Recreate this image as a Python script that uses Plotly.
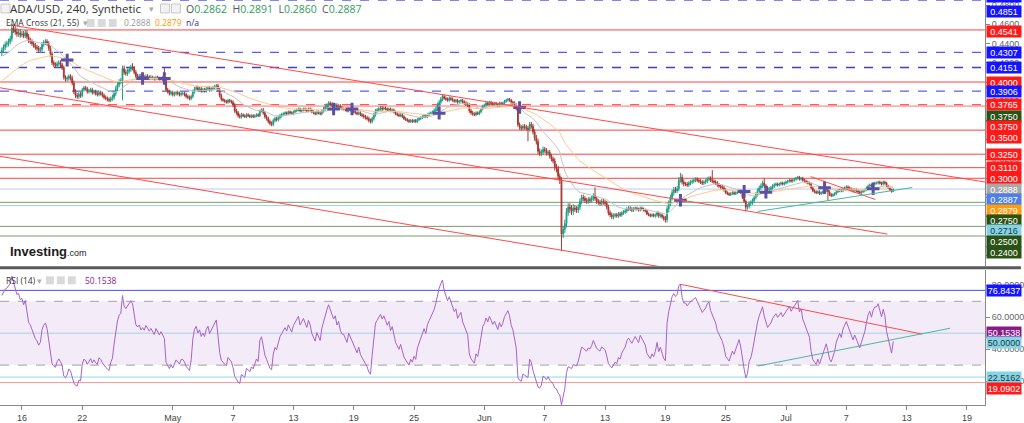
import numpy as np
import pandas as pd
import plotly.graph_objects as go

# ---------------- data (prices x 1e-4) ----------------
start = "2023-04-14 00:00"
open0 = 4300
closes = [
    4330, 4360, 4390, 4400, 4420, 4450,  4560, 4540, 4520, 4500, 4510, 4490,
    4500, 4480, 4510, 4470, 4430, 4420,  4400, 4380, 4360, 4350, 4330, 4340,
    4390, 4410, 4420, 4400, 4350, 4290,  4200, 4180, 4170, 4190, 4200, 4180,
    4150, 4050, 4030, 4040, 4060, 4040,  3990, 3900, 3860, 3850, 3870, 3860,
    3920, 3940, 3930, 3900, 3910, 3920,  3890, 3900, 3880, 3870, 3890, 3880,
    3860, 3840, 3830, 3820, 3810, 3830,  3840, 3880, 3930, 3970, 4000, 4010,
    4140, 4100, 4090, 4110, 4130, 4150,  4140, 4100, 4060, 4050, 4060, 4040,
    4050, 4040, 4060, 4050, 4040, 4050,  4040, 4030, 4050, 4040, 4030, 4040,
    4030, 4020, 3920, 3900, 3880, 3890,  3870, 3880, 3890, 3880, 3870, 3880,
    3880, 3870, 3850, 3840, 3830, 3850,  3900, 3930, 3940, 3920, 3930, 3910,
    3920, 3910, 3930, 3940, 3920, 3930,  3940, 3950, 3960, 3920, 3860, 3820,
    3810, 3800, 3790, 3810, 3800, 3790,  3760, 3700, 3680, 3650, 3640, 3660,
    3650, 3640, 3660, 3650, 3640, 3650,  3640, 3650, 3660, 3650, 3700, 3710,
    3680, 3640, 3620, 3590, 3570, 3560,  3600, 3620, 3610, 3630, 3650, 3660,
    3670, 3680, 3670, 3690, 3680, 3670,  3690, 3700, 3710, 3720, 3700, 3710,
    3720, 3710, 3700, 3720, 3710, 3690,  3680, 3670, 3690, 3680, 3670, 3700,
    3720, 3740, 3760, 3780, 3770, 3760,  3750, 3760, 3740, 3750, 3730, 3720,
    3720, 3710, 3700, 3720, 3710, 3700,  3690, 3680, 3670, 3680, 3660, 3650,
    3640, 3630, 3620, 3600, 3590, 3620,  3660, 3700, 3710, 3720, 3730, 3720,
    3730, 3720, 3710, 3720, 3700, 3710,  3690, 3670, 3660, 3650, 3660, 3640,
    3620, 3610, 3600, 3590, 3600, 3590,  3600, 3590, 3610, 3620, 3630, 3640,
    3650, 3640, 3660, 3670, 3680, 3690,  3700, 3720, 3760, 3790, 3820, 3850,
    3830, 3820, 3810, 3830, 3820, 3810,  3800, 3810, 3790, 3800, 3810, 3790,
    3780, 3770, 3760, 3700, 3680, 3670,  3660, 3680, 3670, 3690, 3720, 3750,
    3760, 3780, 3770, 3790, 3780, 3770,  3780, 3770, 3760, 3780, 3770, 3780,
    3800, 3810, 3820, 3810, 3790, 3780,  3760, 3730, 3560, 3530, 3520, 3540,
    3530, 3520, 3510, 3560, 3540, 3480,  3420, 3380, 3280, 3260, 3270, 3300,
    3290, 3260, 3270, 3230, 3200, 3180,  3120, 3100, 3020, 2980, 2420, 2470,
    2530, 2650, 2700, 2680, 2660, 2690,  2680, 2670, 2700, 2760, 2800, 2790,
    2770, 2760, 2780, 2770, 2790, 2820,  2790, 2760, 2750, 2740, 2760, 2750,
    2740, 2700, 2640, 2620, 2600, 2610,  2620, 2610, 2630, 2620, 2640, 2650,
    2660, 2680, 2690, 2680, 2670, 2680,  2690, 2680, 2670, 2690, 2680, 2670,
    2660, 2630, 2620, 2610, 2620, 2610,  2620, 2640, 2610, 2620, 2600, 2580,
    2570, 2680, 2740, 2800, 2850, 2880,  2870, 2890, 2980, 3010, 2960, 2940,
    2940, 2930, 2950, 2960, 2970, 2980,  2990, 2980, 2970, 2960, 2950, 2960,
    2970, 2990, 3000, 2980, 2970, 2960,  2950, 2930, 2920, 2910, 2900, 2880,
    2850, 2840, 2830, 2840, 2850, 2840,  2850, 2860, 2870, 2850, 2800, 2760,
    2700, 2710, 2740, 2750, 2770, 2800,  2830, 2870, 2900, 2920, 2950, 2920,
    2900, 2880, 2890, 2900, 2920, 2930,  2940, 2930, 2940, 2950, 2940, 2950,
    2960, 2970, 2980, 2970, 2980, 2990,  3000, 3010, 2990, 3000, 2980, 2970,
    2960, 2950, 2940, 2900, 2870, 2860,  2850, 2860, 2840, 2850, 2860, 2870,
    2880, 2860, 2830, 2820, 2830, 2840,  2860, 2870, 2880, 2870, 2890, 2900,
    2910, 2900, 2890, 2880, 2870, 2880,  2870, 2860, 2850, 2860, 2870, 2880,
    2900, 2920, 2930, 2920, 2940, 2950,  2950, 2960, 2950, 2940, 2960, 2950,
    2920, 2900, 2880, 2862, 2887,
]
# typical wick size per day (x 1e-4)
wick_up = [30, 40, 30, 25, 25, 25, 20, 25, 20, 20, 20, 30, 30, 25, 20, 15, 20, 20,
           20, 20, 20, 20, 15, 20, 15, 15, 20, 20, 15, 15, 15, 15, 20, 20, 15, 15,
           20, 20, 15, 15, 15, 15, 15, 25, 20, 15, 20, 15, 15, 15, 15, 20, 25, 30,
           25, 30, 40, 30, 25, 25, 25, 20, 20, 15, 15, 15, 30, 30, 20, 20, 20, 20,
           15, 15, 20, 25, 20, 15, 15, 15, 15, 15, 15, 15, 15, 15, 15, 15, 12]
wick_dn = [30, 30, 25, 25, 25, 25, 25, 25, 20, 20, 20, 25, 25, 20, 20, 15, 20, 20,
           20, 20, 20, 20, 15, 20, 15, 15, 20, 20, 15, 15, 15, 15, 20, 15, 15, 15,
           20, 20, 15, 15, 15, 15, 15, 20, 15, 15, 20, 15, 15, 15, 15, 25, 25, 30,
           25, 40, 40, 30, 25, 25, 25, 20, 20, 15, 15, 20, 30, 25, 20, 20, 20, 20,
           15, 15, 25, 20, 20, 15, 15, 15, 15, 15, 15, 15, 20, 15, 15, 15, 12]
high_spikes = {78: 4196, 97: 4144, 354: 2905, 405: 3056, 424: 3085, 455: 3004, 532: 2891}
low_spikes = {72: 3810, 314: 3384, 334: 2244, 444: 2655, 493: 2775, 532: 2860}

# horizontal levels: (value, colour, dash)
levels_main = [
    (0.4851, "#5c5cf2", "dash"), (0.4541, "#ff4040", "solid"), (0.4307, "#5c5cf2", "dash"),
    (0.4151, "#3f3fc8", "dash"), (0.4000, "#ff4040", "solid"), (0.3906, "#5c5cf2", "dash"),
    (0.3765, "#ff5a5a", "dash"), (0.3750, "#ff7070", "solid"), (0.3500, "#ff4040", "solid"),
    (0.3250, "#ff4040", "solid"), (0.3110, "#ff4040", "solid"), (0.3000, "#ff4040", "solid"),
    (0.2888, "#b9c9f2", "solid"), (0.2750, "#7f9a6c", "solid"), (0.2716, "#9ccfdc", "solid"),
    (0.2500, "#7f9a6c", "solid"), (0.2400, "#7f9a6c", "solid"),
]
levels_rsi = [(76.8437, "#4c4cf5", "solid"), (50.0, "#a9cfe6", "solid"),
              (22.5162, "#8fdbe6", "solid"), (19.0902, "#ff9a9a", "solid")]

# right-axis value tags: (text, value, axis, bg, fg, shift_px)
tags = [
    ("0.4851", 0.4851, "y", "#1414ff", "white", 4), ("0.4851", 0.4851, "y", "#1414ff", "white", -11),
    ("0.4541", 0.4541, "y", "#ff1a1a", "white", -2), ("0.4307", 0.4307, "y", "#1414ff", "white", 0),
    ("0.4151", 0.4151, "y", "#1414ff", "white", 0), ("0.4000", 0.4000, "y", "#ff1a1a", "white", 0),
    ("0.3906", 0.3906, "y", "#1414ff", "white", 0), ("0.3765", 0.3765, "y", "#ff1a1a", "white", 0),
    ("0.3750", 0.3750, "y", "#2b5216", "white", -10), ("0.3750", 0.3750, "y", "#ff1a1a", "white", -20),
    ("0.3500", 0.3500, "y", "#ff1a1a", "white", -7), ("0.3250", 0.3250, "y", "#ff1a1a", "white", 0),
    ("0.3110", 0.3110, "y", "#ff1a1a", "white", 0), ("0.3000", 0.3000, "y", "#ff1a1a", "white", 0),
    ("0.2888", 0.2888, "y", "#a8a8a8", "white", 0), ("0.2887", 0.2887, "y", "#4d7fe6", "white", -10.5),
    ("0.2879", 0.2879, "y", "#ff9b0f", "white", -20.5), ("0.2750", 0.2750, "y", "#2b5216", "white", -18),
    ("0.2716", 0.2716, "y", "#86d3e3", "#1d3b45", -25), ("0.2500", 0.2500, "y", "#2b5216", "white", -15),
    ("0.2400", 0.2400, "y", "#2b5216", "white", -16.5),
    ("76.8437", 76.8437, "y2", "#1414ff", "white", 0), ("50.1538", 50.1538, "y2", "#8a1a8a", "white", 0),
    ("50.0000", 50.0, "y2", "#86d3e3", "#1d3b45", -9.5), ("22.5162", 22.5162, "y2", "#86d3e3", "#1d3b45", 0),
    ("19.0902", 19.0902, "y2", "#ff1a1a", "white", -5.5),
]

# drawn trend lines: (t0, v0, t1, v1, colour, axis)
trendlines = [
    ("2023-04-14 19:26", 0.4593, "2023-07-20 19:00", 0.2961, "#ff4a4a", "y"),
    ("2023-04-13 19:39", 0.3940, "2023-07-11 02:00", 0.2420, "#ff4a4a", "y"),
    ("2023-04-13 19:39", 0.3228, "2023-06-22 00:00", 0.2020, "#ff4a4a", "y"),
    ("2023-07-03 10:30", 0.3018, "2023-07-09 21:20", 0.2779, "#ff4a4a", "y"),
    ("2023-06-28 04:30", 0.2655, "2023-07-13 13:30", 0.2904, "#4cb5a3", "y"),
    ("2023-06-20 13:00", 80.6, "2023-07-14 13:10", 49.4, "#ff4a4a", "y2"),
    ("2023-06-28 04:30", 29.4, "2023-07-17 07:40", 53.1, "#4cb5a3", "y2"),
]
ema_seed = {21: 0.4260, 55: 0.4000}

tick_dates = ["2023-04-16", "2023-04-22", "2023-05-01", "2023-05-07", "2023-05-13", "2023-05-19",
              "2023-05-25", "2023-06-01", "2023-06-07", "2023-06-13", "2023-06-19", "2023-06-25",
              "2023-07-01", "2023-07-07", "2023-07-13", "2023-07-19"]
tick_text = ["16", "22", "May", "7", "13", "19", "25", "Jun", "7", "13", "19", "25", "Jul", "7", "13", "19"]

# ---------------- derived series ----------------
n = len(closes)
t = pd.Timestamp(start) + pd.to_timedelta(np.arange(n) * 4, unit="h")
c = np.array(closes) / 1e4
o = np.concatenate([[open0 / 1e4], c[:-1]])
day = np.arange(n) // 6
hi = np.maximum(o, c) + np.array(wick_up)[day] / 1e4
lo = np.minimum(o, c) - np.array(wick_dn)[day] / 1e4
for k, v in high_spikes.items():
    hi[k] = v / 1e4
for k, v in low_spikes.items():
    lo[k] = v / 1e4


def ema(x, span, seed):
    a = 2.0 / (span + 1)
    out, e = [], seed
    for v in x:
        e = a * v + (1 - a) * e
        out.append(e)
    return np.array(out)


e21 = ema(c, 21, ema_seed[21])
e55 = ema(c, 55, ema_seed[55])

d = np.diff(c, prepend=c[0])
g = np.clip(d, 0, None)
l_ = np.clip(-d, 0, None)
ag, al = g[1:15].mean(), l_[1:15].mean()
rsi = []
for i in range(n):
    if i > 0:
        ag = (ag * 13 + g[i]) / 14
        al = (al * 13 + l_[i]) / 14
    rsi.append(100 - 100 / (1 + ag / al) if al > 0 else 100)
rsi = np.array(rsi)

diff = e21 - e55
cross_idx = [i for i in range(1, n) if np.sign(diff[i]) != np.sign(diff[i - 1])]

# ---------------- figure ----------------
W, H = 1024, 423
ML, MR, MT, MB = 0, 36, 0, 17
PW, PH = W - ML - MR, H - MT - MB


def px(xp):
    return xp / PW


def py(yp):
    return 1 - yp / PH


UP, DN = "#1e9e86", "#a8382f"
fig = go.Figure()
fig.add_trace(go.Candlestick(
    x=t, open=o, high=hi, low=lo, close=c, whiskerwidth=0,
    increasing=dict(line=dict(color=UP, width=1), fillcolor=UP),
    decreasing=dict(line=dict(color=DN, width=1), fillcolor=DN),
    showlegend=False, hoverinfo="skip", xaxis="x", yaxis="y"))
fig.add_trace(go.Scatter(x=t, y=e21, mode="lines", line=dict(color="#c4c4c4", width=1),
                         showlegend=False, hoverinfo="skip"))
fig.add_trace(go.Scatter(x=t, y=e55, mode="lines", line=dict(color="#ffc98a", width=1),
                         showlegend=False, hoverinfo="skip"))
fig.add_trace(go.Scatter(x=t[cross_idx], y=(e21[cross_idx] + e55[cross_idx]) / 2, mode="markers",
                         marker=dict(symbol="cross-thin", size=9, line=dict(color="#5b4fa6", width=3)),
                         showlegend=False, hoverinfo="skip"))
for (t0, v0, t1, v1, col, ax) in trendlines:
    fig.add_trace(go.Scatter(x=[t0, t1], y=[v0, v1], mode="lines", line=dict(color=col, width=1),
                             yaxis=ax, showlegend=False, hoverinfo="skip"))
fig.add_trace(go.Scatter(x=t, y=rsi, mode="lines", line=dict(color="#a862c9", width=1),
                         yaxis="y2", showlegend=False, hoverinfo="skip"))

shapes = []
for v, col, dash in levels_main:
    shapes.append(dict(type="line", xref="paper", x0=0, x1=1, yref="y", y0=v, y1=v,
                       line=dict(color=col, width=1.3 if dash == "dash" else 1, dash=dash), layer="below"))
shapes.append(dict(type="rect", xref="paper", x0=0, x1=1, yref="y2", y0=30, y1=70,
                   fillcolor="rgba(160,100,190,0.13)", line=dict(width=0), layer="below"))
for v in (70, 30):
    shapes.append(dict(type="line", xref="paper", x0=0, x1=1, yref="y2", y0=v, y1=v,
                       line=dict(color="#a0a0a0", width=1, dash="dash"), layer="below"))
for v, col, dash in levels_rsi:
    shapes.append(dict(type="line", xref="paper", x0=0, x1=1, yref="y2", y0=v, y1=v,
                       line=dict(color=col, width=1, dash=dash), layer="below"))
# pane separator
shapes.append(dict(type="line", xref="paper", x0=0, x1=W / PW, yref="paper", y0=py(268.5), y1=py(268.5),
                   line=dict(color="#5a5a5a", width=3)))
# header icons
for x0 in (1, 161, 172):
    shapes.append(dict(type="rect", xref="paper", yref="paper", x0=px(x0), x1=px(x0 + 9),
                       y0=py(4), y1=py(13), line=dict(color="#c8c8c8", width=1), fillcolor="#f2f2f2"))
for x0 in (87, 98, 109):
    shapes.append(dict(type="rect", xref="paper", yref="paper", x0=px(x0), x1=px(x0 + 8),
                       y0=py(19), y1=py(27), line=dict(width=0), fillcolor="#d9d9d9"))
for x0 in (46, 57, 68):
    shapes.append(dict(type="rect", xref="paper", yref="paper", x0=px(x0), x1=px(x0 + 8),
                       y0=py(277), y1=py(285), line=dict(width=0), fillcolor="#d9d9d9"))

ann = []
for text, v, ax, bg, fg, sh in tags:
    ann.append(dict(x=1, xref="paper", y=v, yref=ax, xanchor="left", yanchor="middle", xshift=1, yshift=sh,
                    text=text, showarrow=False, bgcolor=bg, width=32, height=9, borderpad=1,
                    font=dict(family="Liberation Sans, Arial, sans-serif", size=9, color=fg)))
hdr_font = "Open Sans, Arial, sans-serif"
ann.append(dict(x=px(8), y=py(9), xref="paper", yref="paper", xanchor="left", yanchor="middle",
                text="ADA/USD, 240, Synthetic", showarrow=False,
                font=dict(family=hdr_font, size=11.5, color="#333333")))
ann.append(dict(x=px(147), y=py(9), xref="paper", yref="paper", xanchor="left", yanchor="middle",
                text="▾", showarrow=False, font=dict(family=hdr_font, size=9, color="#aaaaaa")))
G = "#2f9c5c"
ohlc = ("O<span style='color:%s'>0.2862</span>  H<span style='color:%s'>0.2891</span>  "
        "L<span style='color:%s'>0.2860</span>  C<span style='color:%s'>0.2887</span>") % (G, G, G, G)
ann.append(dict(x=px(185), y=py(9), xref="paper", yref="paper", xanchor="left", yanchor="middle",
                text=ohlc, showarrow=False, font=dict(family=hdr_font, size=10.5, color="#555555")))
ann.append(dict(x=px(4), y=py(23), xref="paper", yref="paper", xanchor="left", yanchor="middle",
                text="EMA Cross (21, 55)  <span style='color:#aaaaaa'>▾</span>", showarrow=False,
                font=dict(family=hdr_font, size=8.5, color="#333333")))
ann.append(dict(x=px(122), y=py(23), xref="paper", yref="paper", xanchor="left", yanchor="middle",
                text="<span style='color:#9a9a9a'>0.2888</span>  <span style='color:#ff9800'>0.2879</span>"
                     "  <span style='color:#2a2a9a'>n/a</span>",
                showarrow=False, font=dict(family=hdr_font, size=8.5)))
ann.append(dict(x=px(4), y=py(281), xref="paper", yref="paper", xanchor="left", yanchor="middle",
                text="RSI (14) <span style='color:#aaaaaa'>▾</span>", showarrow=False,
                font=dict(family=hdr_font, size=8.5, color="#333333")))
ann.append(dict(x=px(83), y=py(281), xref="paper", yref="paper", xanchor="left", yanchor="middle",
                text="50.1538", showarrow=False, font=dict(family=hdr_font, size=8.5, color="#8a1a8a")))
ann.append(dict(x=px(8), y=py(252), xref="paper", yref="paper", xanchor="left", yanchor="middle",
                text="<b>Investing</b><span style='font-size:9px'>.com</span>", showarrow=False,
                font=dict(family="Arial, Liberation Sans, sans-serif", size=13, color="#1b1b1b")))

main_ticks = [round(0.22 + 0.02 * k, 2) for k in range(14)]
fig.update_layout(
    width=W, height=H, margin=dict(l=ML, r=MR, t=MT, b=MB),
    paper_bgcolor="white", plot_bgcolor="white", showlegend=False,
    xaxis=dict(range=["2023-04-13 19:39", "2023-07-20 19:00"], anchor="y2", showgrid=False,
               rangeslider=dict(visible=False), tickvals=tick_dates, ticktext=tick_text,
               ticks="outside", ticklen=4, tickcolor="#888888", showline=True, linecolor="#888888",
               tickfont=dict(family="Liberation Sans Narrow, Arial Narrow, sans-serif", size=9, color="#444444"),
               zeroline=False),
    yaxis=dict(domain=[1 - 267 / PH, 1], range=[0.2085, 0.4852], side="right", anchor="x",
               showgrid=False, zeroline=False, tickvals=main_ticks, ticktext=["%.4f" % v for v in main_ticks],
               ticks="outside", ticklen=4, tickcolor="#888888", showline=True, linecolor="#888888",
               tickfont=dict(family="Liberation Sans, Arial, sans-serif", size=9, color="#666666")),
    yaxis2=dict(domain=[0, 1 - 271 / PH], range=[5, 89.4], side="right", anchor="x",
                showgrid=False, zeroline=False, tickvals=[20, 40, 60, 80],
                ticktext=["20.0000", "40.0000", "60.0000", "80.0000"],
                ticks="outside", ticklen=4, tickcolor="#888888", showline=True, linecolor="#888888",
                tickfont=dict(family="Liberation Sans, Arial, sans-serif", size=9, color="#666666")),
    shapes=shapes, annotations=ann,
)
fig.write_html("out.html", include_plotlyjs=True, config={"displayModeBar": False},
               post_script="document.body.style.margin='0';document.body.style.overflow='hidden';")
